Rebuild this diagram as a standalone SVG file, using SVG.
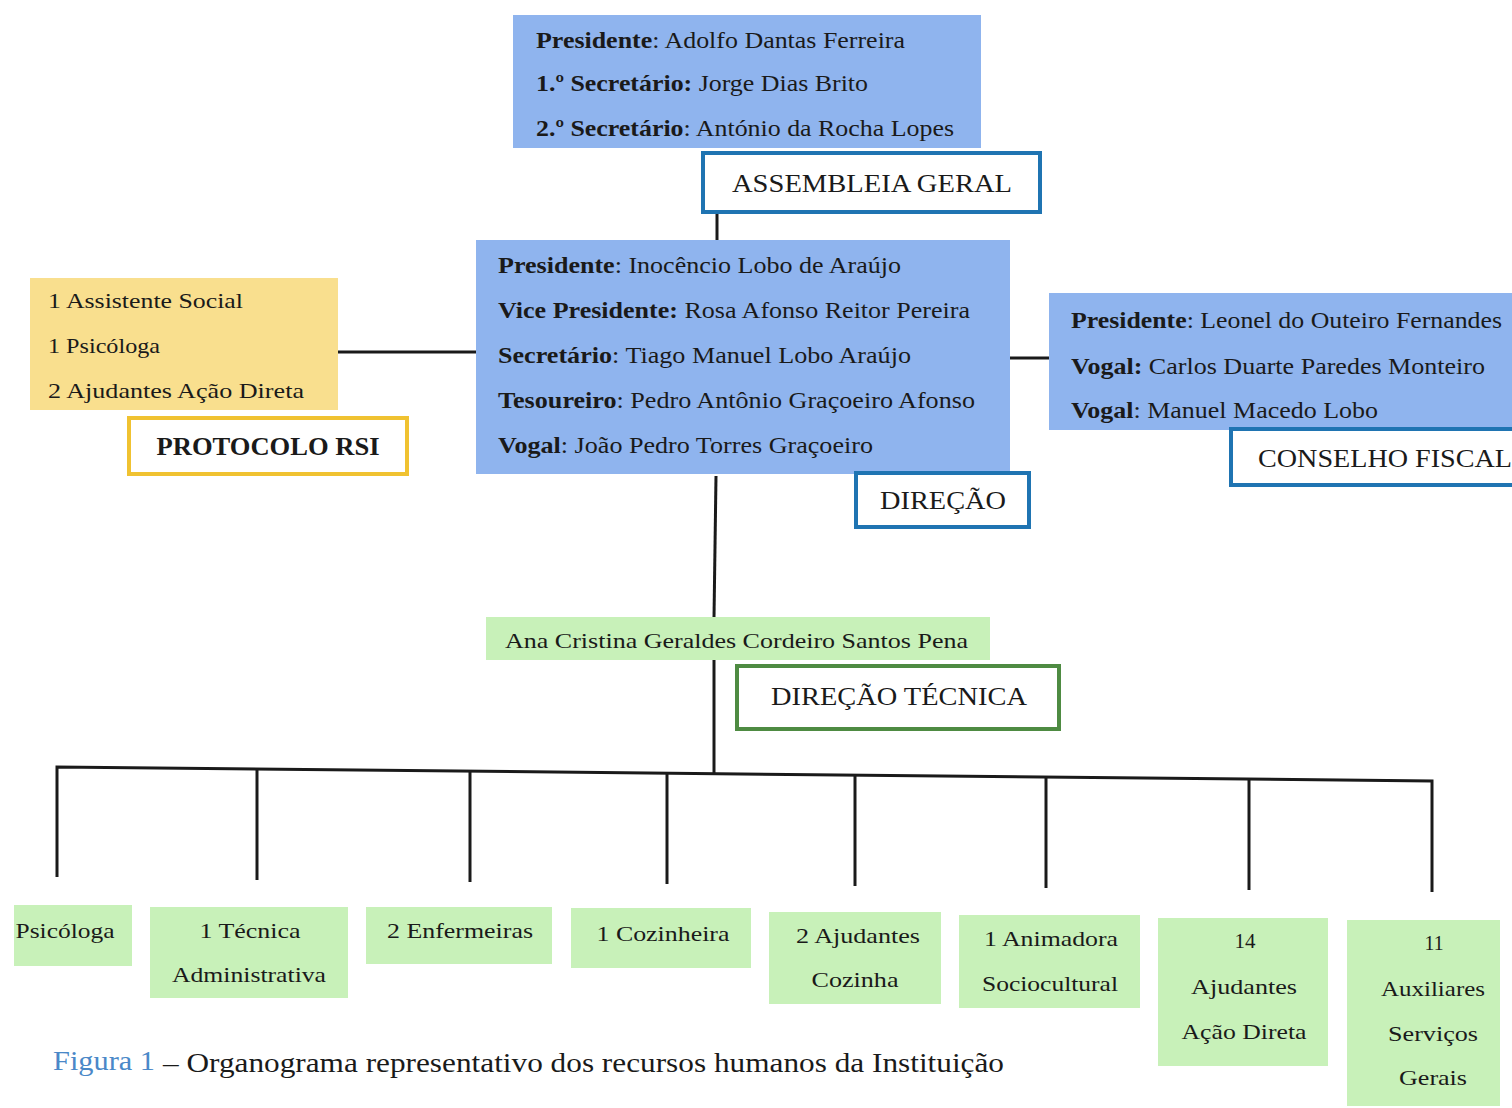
<svg xmlns="http://www.w3.org/2000/svg" width="1512" height="1108" viewBox="0 0 1512 1108">
<style>
text{font-family:"Liberation Serif","Times New Roman",serif;fill:#1a1a1a}
.blue{fill:#8fb4ee}
.yel{fill:#f9df8e}
.grn{fill:#c8f1b9}
.lb{fill:#fff;stroke:#1f74b2;stroke-width:4}
.ly{fill:#fff;stroke:#f0c231;stroke-width:4}
.lg{fill:#fff;stroke:#4e8b42;stroke-width:4}
.t{font-size:23px}
.lab{font-size:26px}
.bt{font-size:22px;text-anchor:middle}
.c{text-anchor:middle}
.b{font-weight:bold}
.con{stroke:#1a1a1a;stroke-width:3;fill:none}
</style>
<rect width="1512" height="1108" fill="#fff"/>
<g id="connectors">
<line class="con" x1="717" y1="205" x2="717" y2="242"/>
<line class="con" x1="338" y1="352" x2="478" y2="352"/>
<line class="con" x1="1010" y1="358" x2="1050" y2="358"/>
<line class="con" x1="716" y1="476" x2="714" y2="618"/>
<line class="con" x1="714" y1="660" x2="714" y2="773"/>
<polyline class="con" points="57,877 57,767 1432,781 1432,892"/>
<line class="con" x1="257" y1="769" x2="257" y2="880"/>
<line class="con" x1="470" y1="771" x2="470" y2="882"/>
<line class="con" x1="667" y1="773" x2="667" y2="884"/>
<line class="con" x1="855" y1="775" x2="855" y2="886"/>
<line class="con" x1="1046" y1="777" x2="1046" y2="888"/>
<line class="con" x1="1249" y1="779" x2="1249" y2="890"/>
</g>
<g id="assembleia">
<rect class="blue" x="513" y="15" width="468" height="133"/>
<text class="t" x="536" y="48" textLength="369" lengthAdjust="spacingAndGlyphs"><tspan class="b">Presidente</tspan>: Adolfo Dantas Ferreira</text>
<text class="t" x="536" y="91" textLength="332" lengthAdjust="spacingAndGlyphs"><tspan class="b">1.º Secretário:</tspan> Jorge Dias Brito</text>
<text class="t" x="536" y="136" textLength="418" lengthAdjust="spacingAndGlyphs"><tspan class="b">2.º Secretário</tspan>: António da Rocha Lopes</text>
</g>
<g id="assembleia-label">
<rect class="lb" x="703" y="153" width="337" height="59"/>
<text class="lab c" x="872" y="192" textLength="280" lengthAdjust="spacingAndGlyphs">ASSEMBLEIA GERAL</text>
</g>
<g id="direcao">
<rect class="blue" x="476" y="240" width="534" height="234"/>
<text class="t" x="498" y="273" textLength="403" lengthAdjust="spacingAndGlyphs"><tspan class="b">Presidente</tspan>: Inocêncio Lobo de Araújo</text>
<text class="t" x="498" y="318" textLength="472" lengthAdjust="spacingAndGlyphs"><tspan class="b">Vice Presidente:</tspan> Rosa Afonso Reitor Pereira</text>
<text class="t" x="498" y="363" textLength="413" lengthAdjust="spacingAndGlyphs"><tspan class="b">Secretário</tspan>: Tiago Manuel Lobo Araújo</text>
<text class="t" x="498" y="408" textLength="477" lengthAdjust="spacingAndGlyphs"><tspan class="b">Tesoureiro</tspan>: Pedro Antônio Graçoeiro Afonso</text>
<text class="t" x="498" y="453" textLength="375" lengthAdjust="spacingAndGlyphs"><tspan class="b">Vogal</tspan>: João Pedro Torres Graçoeiro</text>
</g>
<g id="direcao-label">
<rect class="lb" x="856" y="473" width="173" height="54"/>
<text class="lab c" x="943" y="509" textLength="126" lengthAdjust="spacingAndGlyphs">DIREÇÃO</text>
</g>
<g id="protocolo">
<rect class="yel" x="30" y="278" width="308" height="132"/>
<text x="48" y="308" font-size="21" textLength="195" lengthAdjust="spacingAndGlyphs">1 Assistente Social</text>
<text x="48" y="353" font-size="21" textLength="112" lengthAdjust="spacingAndGlyphs">1 Psicóloga</text>
<text x="48" y="398" font-size="21" textLength="256" lengthAdjust="spacingAndGlyphs">2 Ajudantes Ação Direta</text>
</g>
<g id="protocolo-label">
<rect class="ly" x="129" y="418" width="278" height="56"/>
<text class="lab c b" x="268" y="455" textLength="223" lengthAdjust="spacingAndGlyphs">PROTOCOLO RSI</text>
</g>
<g id="conselho">
<rect class="blue" x="1049" y="293" width="470" height="137"/>
<text class="t" x="1071" y="328" textLength="431" lengthAdjust="spacingAndGlyphs"><tspan class="b">Presidente</tspan>: Leonel do Outeiro Fernandes</text>
<text class="t" x="1071" y="374" textLength="414" lengthAdjust="spacingAndGlyphs"><tspan class="b">Vogal:</tspan> Carlos Duarte Paredes Monteiro</text>
<text class="t" x="1071" y="418" textLength="307" lengthAdjust="spacingAndGlyphs"><tspan class="b">Vogal</tspan>: Manuel Macedo Lobo</text>
</g>
<g id="conselho-label">
<rect class="lb" x="1231" y="429" width="300" height="56"/>
<text class="lab" x="1258" y="467" textLength="254" lengthAdjust="spacingAndGlyphs">CONSELHO FISCAL</text>
</g>
<g id="direcao-tecnica">
<rect class="grn" x="486" y="617" width="504" height="43"/>
<text x="505" y="648" font-size="22" textLength="463" lengthAdjust="spacingAndGlyphs">Ana Cristina Geraldes Cordeiro Santos Pena</text>
</g>
<g id="direcao-tecnica-label">
<rect class="lg" x="737" y="666" width="322" height="63"/>
<text class="lab c" x="899" y="705" textLength="256" lengthAdjust="spacingAndGlyphs">DIREÇÃO TÉCNICA</text>
</g>
<g id="psicologa">
<rect class="grn" x="14" y="905" width="118" height="61"/>
<text class="bt" x="65" y="938" textLength="99" lengthAdjust="spacingAndGlyphs">Psicóloga</text>
</g>
<g id="tecnica">
<rect class="grn" x="150" y="907" width="198" height="91"/>
<text class="bt" x="250" y="938" textLength="101" lengthAdjust="spacingAndGlyphs">1 Técnica</text>
<text class="bt" x="249" y="982" textLength="154" lengthAdjust="spacingAndGlyphs">Administrativa</text>
</g>
<g id="enfermeiras">
<rect class="grn" x="366" y="907" width="186" height="57"/>
<text class="bt" x="460" y="938" textLength="146" lengthAdjust="spacingAndGlyphs">2 Enfermeiras</text>
</g>
<g id="cozinheira">
<rect class="grn" x="571" y="908" width="180" height="60"/>
<text class="bt" x="663" y="941" textLength="133" lengthAdjust="spacingAndGlyphs">1 Cozinheira</text>
</g>
<g id="ajudantes-cozinha">
<rect class="grn" x="769" y="912" width="172" height="92"/>
<text class="bt" x="858" y="943" textLength="124" lengthAdjust="spacingAndGlyphs">2 Ajudantes</text>
<text class="bt" x="855" y="987" textLength="87" lengthAdjust="spacingAndGlyphs">Cozinha</text>
</g>
<g id="animadora">
<rect class="grn" x="959" y="915" width="181" height="93"/>
<text class="bt" x="1051" y="946" textLength="134" lengthAdjust="spacingAndGlyphs">1 Animadora</text>
<text class="bt" x="1050" y="991" textLength="136" lengthAdjust="spacingAndGlyphs">Sociocultural</text>
</g>
<g id="ajudantes-acao">
<rect class="grn" x="1158" y="918" width="170" height="148"/>
<text class="bt" x="1245" y="948" textLength="21" lengthAdjust="spacingAndGlyphs">14</text>
<text class="bt" x="1244" y="994" textLength="106" lengthAdjust="spacingAndGlyphs">Ajudantes</text>
<text class="bt" x="1244" y="1039" textLength="125" lengthAdjust="spacingAndGlyphs">Ação Direta</text>
</g>
<g id="auxiliares">
<rect class="grn" x="1347" y="920" width="153" height="186"/>
<text class="bt" x="1434" y="950" textLength="19" lengthAdjust="spacingAndGlyphs">11</text>
<text class="bt" x="1433" y="996" textLength="104" lengthAdjust="spacingAndGlyphs">Auxiliares</text>
<text class="bt" x="1433" y="1041" textLength="90" lengthAdjust="spacingAndGlyphs">Serviços</text>
<text class="bt" x="1433" y="1085" textLength="68" lengthAdjust="spacingAndGlyphs">Gerais</text>
</g>
<g id="caption">
<text x="53" y="1070" font-size="27" style="fill:#4a88c8" textLength="102" lengthAdjust="spacingAndGlyphs">Figura 1</text>
<text x="163" y="1072" font-size="27" textLength="841" lengthAdjust="spacingAndGlyphs">– Organograma representativo dos recursos humanos da Instituição</text>
</g>
</svg>
